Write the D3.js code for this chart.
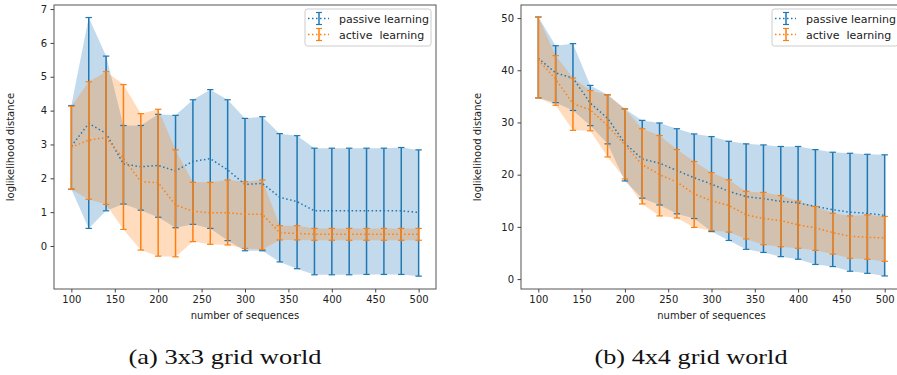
<!DOCTYPE html>
<html>
<head>
  <meta charset="utf-8">
  <title>loglikelihood distance</title>
  <script src="https://d3js.org/d3.v7.min.js"></script>
  <style>
    body { margin: 0; background: #fff; }
    svg text { font-family: "DejaVu Sans", sans-serif; fill: #222; }
    .caption { font-family: "Liberation Serif", "DejaVu Serif", serif !important; fill: #111 !important; }
  </style>
</head>
<body>
<svg id="chart" width="897" height="375"></svg>
<script>
// x positions (number of sequences)
var xs = [100, 120, 140, 160, 180, 200, 220, 240, 260, 280, 300, 320, 340, 360, 380, 400, 420, 440, 460, 480, 500];
var xTicks = [100, 150, 200, 250, 300, 350, 400, 450, 500];

// (a) 3x3 grid world
var passiveMeanA = [2.95, 3.62, 3.33, 2.42, 2.34, 2.38, 2.22, 2.5, 2.58, 2.25, 1.82, 1.85, 1.44, 1.31, 1.04, 1.04, 1.04, 1.04, 1.04, 1.04, 0.99];
var passiveHighA = [4.15, 6.75, 5.61, 3.56, 3.56, 3.89, 3.86, 4.32, 4.62, 4.32, 3.77, 3.82, 3.32, 3.26, 2.89, 2.89, 2.89, 2.89, 2.89, 2.91, 2.84];
var passiveLowA  = [1.68, 0.52, 1.04, 1.24, 1.06, 0.85, 0.54, 0.64, 0.52, 0.16, -0.14, -0.14, -0.47, -0.67, -0.85, -0.85, -0.85, -0.84, -0.84, -0.84, -0.89];
var activeMeanA  = [2.92, 3.13, 3.2, 2.59, 1.9, 1.87, 1.21, 1.03, 0.98, 0.98, 0.94, 0.94, 0.39, 0.37, 0.35, 0.35, 0.35, 0.35, 0.35, 0.35, 0.35];
var activeHighA  = [4.13, 4.85, 5.15, 4.77, 3.91, 4.04, 2.84, 1.88, 1.88, 1.95, 1.9, 1.95, 0.6, 0.6, 0.52, 0.52, 0.52, 0.52, 0.52, 0.52, 0.52];
var activeLowA   = [1.67, 1.38, 1.23, 0.49, -0.12, -0.3, -0.32, 0.13, 0.05, 0.03, -0.07, -0.1, 0.18, 0.18, 0.17, 0.17, 0.17, 0.17, 0.17, 0.17, 0.17];
var yTicksA = [0, 1, 2, 3, 4, 5, 6, 7];

// (b) 4x4 grid world
var passiveMeanB = [42.3, 39.5, 38.5, 33.7, 30.8, 26.0, 23.0, 22.2, 20.8, 19.4, 18.2, 16.8, 15.8, 15.4, 14.9, 14.6, 13.9, 13.3, 12.8, 12.6, 12.2];
var passiveHighB = [50.2, 44.7, 45.1, 37.1, 35.3, 32.6, 30.4, 29.9, 28.8, 27.8, 27.3, 26.4, 25.9, 25.7, 25.4, 25.4, 24.8, 24.3, 24.1, 23.9, 23.8];
var passiveLowB  = [34.7, 33.8, 32.3, 29.4, 25.9, 18.8, 15.5, 14.2, 12.5, 11.6, 9.1, 7.4, 5.7, 5.1, 4.3, 3.8, 2.8, 2.4, 1.5, 1.1, 0.6];
var activeMeanB  = [42.0, 38.3, 33.6, 32.4, 29.4, 25.7, 21.9, 20.0, 18.6, 16.3, 15.0, 14.1, 12.3, 11.6, 11.2, 10.4, 9.8, 8.9, 8.2, 8.0, 7.9];
var activeHighB  = [50.2, 42.8, 38.5, 36.1, 35.3, 32.6, 28.8, 27.5, 24.8, 22.5, 20.4, 19.0, 16.8, 16.6, 16.0, 14.9, 13.9, 12.6, 12.1, 12.3, 12.0];
var activeLowB   = [34.7, 33.3, 28.5, 28.4, 23.4, 19.2, 14.4, 12.1, 11.7, 9.9, 9.3, 9.0, 7.7, 6.6, 6.2, 5.9, 5.5, 4.8, 4.0, 3.8, 3.4];
var yTicksB = [0, 10, 20, 30, 40, 50];

var seriesNames = ["passive learning", "active  learning"];
var captions = ["(a) 3x3 grid world", "(b) 4x4 grid world"];

var blue = "#1f77b4", orange = "#ff7f0e";
var svg = d3.select("#chart");

function panel(opt) {
  var x = d3.scaleLinear().domain([80, 520]).range([opt.left, opt.right]);
  var y = d3.scaleLinear().domain(opt.ydom).range([opt.bottom, opt.top]);
  var g = svg.append("g");

  var series = [
    { mean: opt.pm, hi: opt.ph, lo: opt.pl, color: blue },
    { mean: opt.am, hi: opt.ah, lo: opt.al, color: orange }
  ];

  // shaded bands
  series.forEach(function (s) {
    var area = d3.area()
      .x(function (d, i) { return x(xs[i]); })
      .y0(function (d, i) { return y(s.lo[i]); })
      .y1(function (d, i) { return y(s.hi[i]); });
    g.append("path").datum(xs).attr("d", area)
      .attr("fill", s.color).attr("fill-opacity", 0.27);
  });

  // error bars + dotted means
  series.forEach(function (s) {
    var line = d3.line()
      .x(function (d, i) { return x(xs[i]); })
      .y(function (d, i) { return y(s.mean[i]); });
    g.append("path").datum(xs).attr("d", line)
      .attr("fill", "none").attr("stroke", s.color)
      .attr("stroke-width", 1.5).attr("stroke-dasharray", "1.5,2.5");

    xs.forEach(function (v, i) {
      var cx = x(v);
      g.append("line").attr("x1", cx).attr("x2", cx)
        .attr("y1", y(s.lo[i])).attr("y2", y(s.hi[i]))
        .attr("stroke", s.color).attr("stroke-width", 1.5);
      [s.lo[i], s.hi[i]].forEach(function (e) {
        g.append("line").attr("x1", cx - 3.2).attr("x2", cx + 3.2)
          .attr("y1", y(e)).attr("y2", y(e))
          .attr("stroke", s.color).attr("stroke-width", 1.2);
      });
    });
  });

  // frame
  g.append("rect").attr("x", opt.left).attr("y", opt.top)
    .attr("width", opt.right - opt.left).attr("height", opt.bottom - opt.top)
    .attr("fill", "none").attr("stroke", "#555").attr("stroke-width", 1);

  // axes
  var xa = g.append("g").attr("transform", "translate(0," + opt.bottom + ")")
    .call(d3.axisBottom(x).tickValues(xTicks).tickSize(3.5).tickPadding(3.5));
  var ya = g.append("g").attr("transform", "translate(" + opt.left + ",0)")
    .call(d3.axisLeft(y).tickValues(opt.yticks).tickSize(3.5).tickPadding(3.5));
  [xa, ya].forEach(function (a) {
    a.select(".domain").remove();
    a.selectAll("line").attr("stroke", "#444");
    a.selectAll("text").attr("font-size", "10px")
      .style("font-family", "DejaVu Sans, sans-serif").attr("fill", "#222");
  });

  var cxMid = (opt.left + opt.right) / 2;
  g.append("text").attr("x", cxMid).attr("y", 319).attr("text-anchor", "middle")
    .attr("font-size", "10px").text("number of sequences");
  g.append("text")
    .attr("transform", "translate(" + opt.ylabX + "," + ((opt.top + opt.bottom) / 2) + ") rotate(-90)")
    .attr("text-anchor", "middle").attr("font-size", "10px").text("loglikelihood distance");

  // legend
  var lg = g.append("g").attr("transform", "translate(" + opt.legX + ",9)");
  lg.append("rect").attr("x", 0).attr("y", 0).attr("width", 126).attr("height", 37)
    .attr("rx", 2.5).attr("fill", "#fff").attr("fill-opacity", 0.85)
    .attr("stroke", "#ccc").attr("stroke-width", 1);
  series.forEach(function (s, k) {
    var yy = 9.5 + k * 16;
    lg.append("line").attr("x1", 3).attr("x2", 24).attr("y1", yy).attr("y2", yy)
      .attr("stroke", s.color).attr("stroke-width", 1.5).attr("stroke-dasharray", "1.5,2.5");
    lg.append("line").attr("x1", 14).attr("x2", 14).attr("y1", yy - 6).attr("y2", yy + 6)
      .attr("stroke", s.color).attr("stroke-width", 1.5);
    [yy - 6, yy + 6].forEach(function (cy) {
      lg.append("line").attr("x1", 11).attr("x2", 17).attr("y1", cy).attr("y2", cy)
        .attr("stroke", s.color).attr("stroke-width", 1.2);
    });
    lg.append("text").attr("x", 34).attr("y", yy + 4).attr("font-size", "11px")
      .attr("xml:space", "preserve").style("white-space", "pre").text(seriesNames[k]);
  });

  svg.append("text").attr("class", "caption").attr("x", opt.capX).attr("y", 364)
    .attr("text-anchor", "middle").attr("font-size", "22px")
    .attr("textLength", 193).attr("lengthAdjust", "spacingAndGlyphs")
    .text(opt.caption);
}

panel({
  left: 54, right: 436, top: 5, bottom: 289, ydom: [-1.27, 7.12], yticks: yTicksA,
  pm: passiveMeanA, ph: passiveHighA, pl: passiveLowA,
  am: activeMeanA, ah: activeHighA, al: activeLowA,
  ylabX: 14, legX: 305, capX: 225, caption: captions[0]
});
panel({
  left: 521, right: 902, top: 5, bottom: 289, ydom: [-1.9, 52.5], yticks: yTicksB,
  pm: passiveMeanB, ph: passiveHighB, pl: passiveLowB,
  am: activeMeanB, ah: activeHighB, al: activeLowB,
  ylabX: 481, legX: 772, capX: 691, caption: captions[1]
});
</script>
</body>
</html>
